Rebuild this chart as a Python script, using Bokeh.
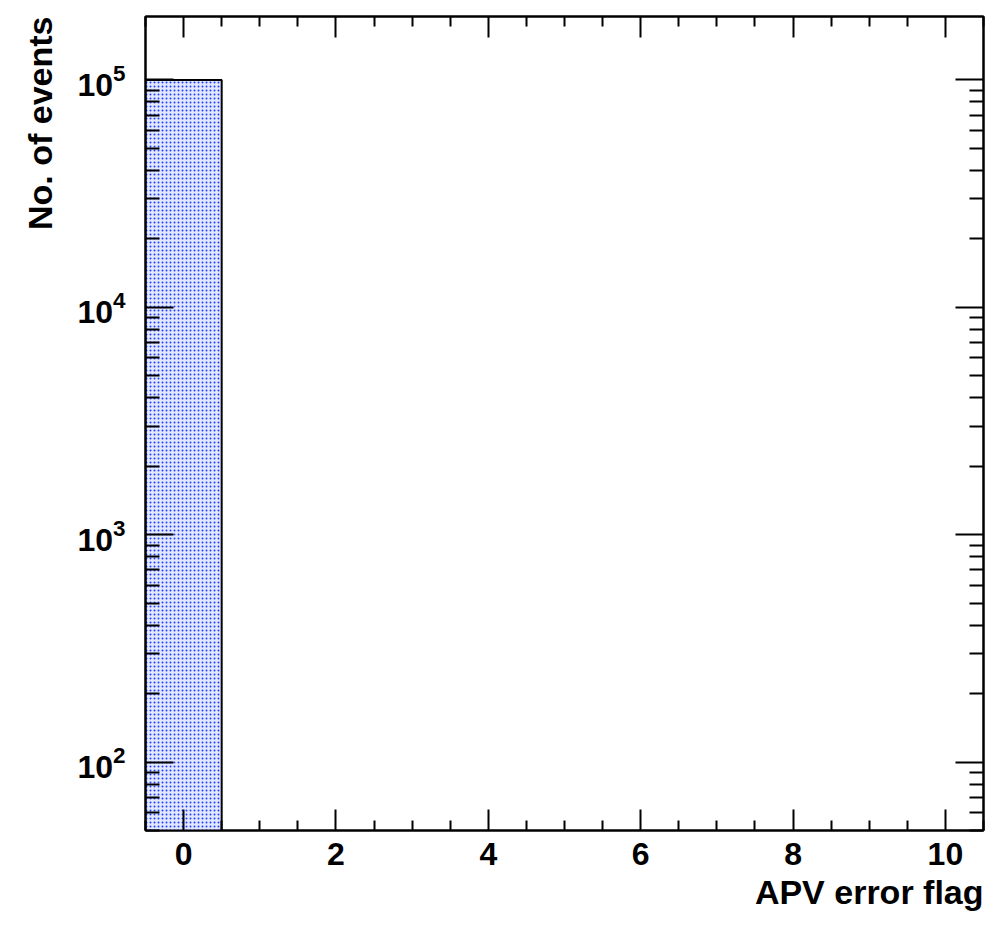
from bokeh.plotting import figure
from bokeh.models import FixedTicker, LogAxis, LinearAxis, ColumnDataSource, Range1d, Title
from bokeh.embed import file_html
from bokeh.resources import INLINE
import numpy as np

# Data: APV error flag histogram (bins 0..10)
flag_bins = list(range(0, 11))
event_counts = [100000, 0, 0, 0, 0, 0, 0, 0, 0, 0, 0]
x_major_ticks = [0, 2, 4, 6, 8, 10]
y_major_ticks = [1e2, 1e3, 1e4, 1e5]
x_title = "APV error flag"
y_title = "No. of events"

FONT = "Liberation Sans"

nz = [(b, c) for b, c in zip(flag_bins, event_counts) if c > 0]
src = ColumnDataSource(dict(
    left=[b - 0.5 for b, _ in nz],
    right=[b + 0.5 for b, _ in nz],
    top=[c for _, c in nz],
    bottom=[1.0 for _ in nz],
))

p = figure(y_axis_type="log",
           x_range=Range1d(-0.5, 10.5), y_range=Range1d(50, 1.9e5),
           output_backend="svg", toolbar_location=None,
           frame_width=838, frame_height=814,
           min_border_left=145, min_border_right=3, min_border_top=16, min_border_bottom=90)

p.quad(left="left", right="right", top="top", bottom="bottom", source=src,
       fill_color="#e2e8ff", hatch_pattern="dot", hatch_color="#1f3fff",
       hatch_scale=4, hatch_weight=3, line_color="black", line_width=2)

p.xgrid.visible = False
p.ygrid.visible = False
p.outline_line_color = "black"
p.outline_line_width = 2
p.background_fill_color = "white"
p.border_fill_color = "white"

x_minor = [v for v in np.arange(-0.5, 10.51, 0.5) if v not in x_major_ticks]
y_minor = [m * 10.0 ** e for e in range(1, 6) for m in range(2, 10)]
xt = FixedTicker(ticks=x_major_ticks, minor_ticks=x_minor)
yt = FixedTicker(ticks=y_major_ticks, minor_ticks=y_minor)

def style(ax, ticker, major_len, minor_len, labels=True):
    ax.ticker = ticker
    ax.major_tick_in = major_len
    ax.major_tick_out = 0
    ax.minor_tick_in = minor_len
    ax.minor_tick_out = 0
    ax.major_tick_line_width = 2
    ax.minor_tick_line_width = 2
    ax.major_tick_line_color = "black"
    ax.minor_tick_line_color = "black"
    ax.axis_line_color = "black"
    ax.axis_line_width = 2
    if labels:
        ax.major_label_text_font = FONT
        ax.major_label_text_font_style = "bold"
        ax.major_label_text_font_size = "32px"
        ax.major_label_text_color = "black"
    else:
        ax.major_label_text_font_size = "2px"
        ax.major_label_text_color = None
        ax.major_label_standoff = 0

xa = p.xaxis[0]
style(xa, xt, 21, 10)
xa.major_label_standoff = 12

ya = p.yaxis[0]
style(ya, yt, 28, 14)
ya.major_label_standoff = 20

top_ax = LinearAxis()
style(top_ax, xt, 21, 10, labels=False)
p.add_layout(top_ax, "above")

right_ax = LogAxis()
style(right_ax, yt, 28, 14, labels=False)
p.add_layout(right_ax, "right")

tx = Title(text=x_title, align="right", text_font=FONT, text_font_style="bold",
           text_font_size="34px", text_color="black", standoff=6)
p.add_layout(tx, "below")
ty = Title(text=y_title, align="right", text_font=FONT, text_font_style="bold",
           text_font_size="34px", text_color="black", standoff=32)
p.add_layout(ty, "left")

open("out.html", "w").write(file_html(p, INLINE))
